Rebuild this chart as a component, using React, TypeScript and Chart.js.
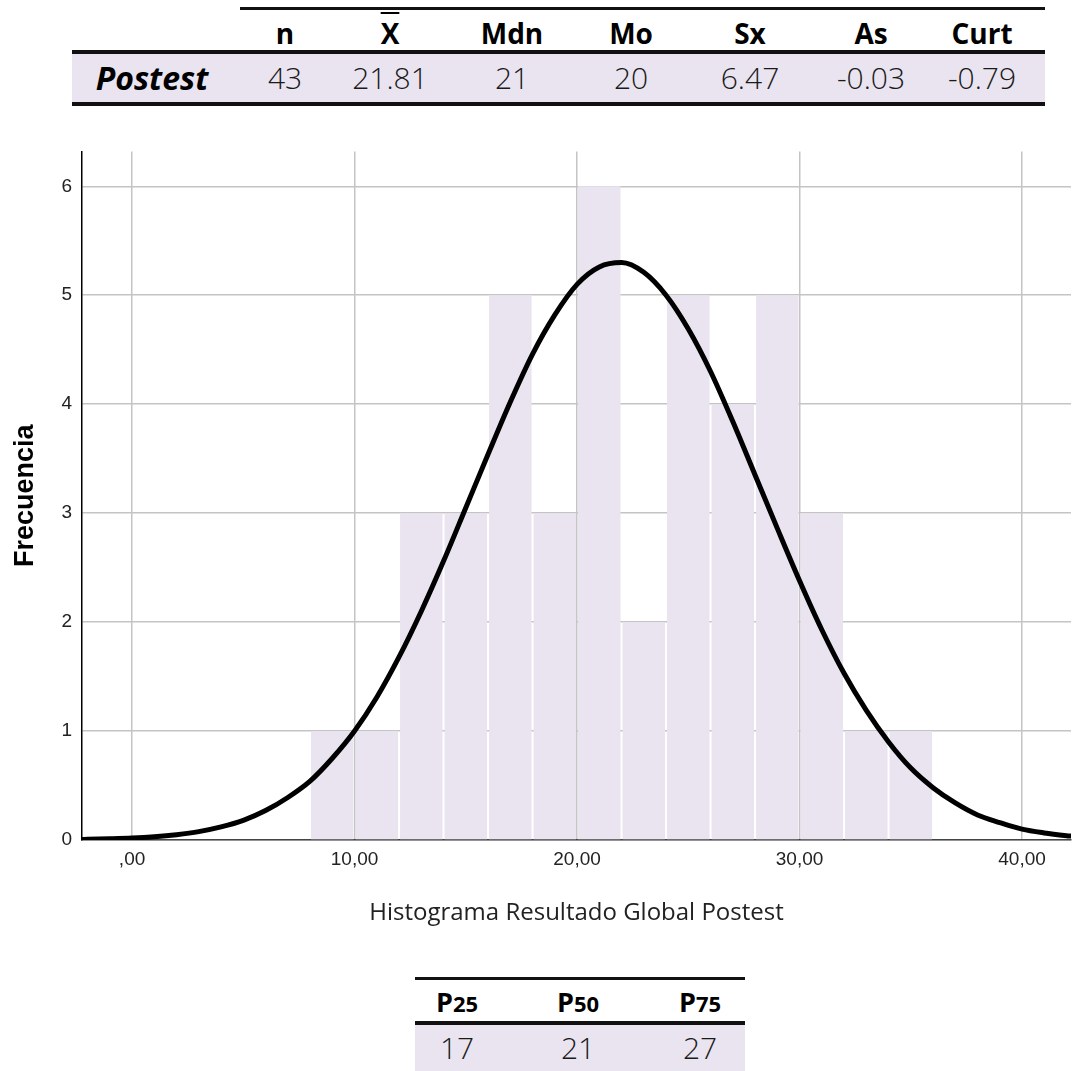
import React, { useEffect, useRef } from "react";
import { Chart, registerables } from "chart.js";

Chart.register(...registerables);

// ---- Data ----
const binCenters = [9, 11, 13, 15, 17, 19, 21, 23, 25, 27, 29, 31, 33, 35];
const binCounts = [1, 1, 3, 3, 5, 3, 6, 2, 5, 4, 5, 3, 1, 1];

const curveX = [-2.25, -2, -1, 0, 1, 2, 3, 4, 5, 6, 7, 8, 9, 10, 11, 12, 13, 14, 15, 16, 17, 18, 19, 20, 21, 22, 23, 24, 25, 26, 27, 28, 29, 30, 31, 32, 33, 34, 35, 36, 37, 38, 39, 40, 41, 42, 42.25];
const curveY = [0.005, 0.006, 0.011, 0.018, 0.03, 0.049, 0.077, 0.12, 0.18, 0.27, 0.39, 0.54, 0.75, 1.0, 1.31, 1.68, 2.1, 2.56, 3.05, 3.54, 4.02, 4.46, 4.82, 5.1, 5.26, 5.3, 5.21, 5.0, 4.69, 4.3, 3.84, 3.35, 2.86, 2.38, 1.93, 1.53, 1.19, 0.9, 0.66, 0.48, 0.34, 0.23, 0.16, 0.1, 0.065, 0.04, 0.035];

const xTickValues = [0, 10, 20, 30, 40];
const xTickLabels = [",00", "10,00", "20,00", "30,00", "40,00"];

const statHeaders = ["n", "X", "Mdn", "Mo", "Sx", "As", "Curt"];
const statValues = ["43", "21.81", "21", "20", "6.47", "-0.03", "-0.79"];
const rowLabel = "Postest";

const percentileSubs = ["25", "50", "75"];
const percentileValues = ["17", "21", "27"];

const xTitle = "Histograma Resultado Global Postest";
const yTitle = "Frecuencia";

// ---- Styles ----
const LAV = "#e9e4f0";
const statCols = [285, 390, 512, 631, 750, 871, 982];
const pctCols = [457, 578, 700];

function App() {
  const ref = useRef<HTMLCanvasElement | null>(null);

  useEffect(() => {
    if (!ref.current) return;
    const chart = new Chart(ref.current, {
      type: "bar",
      data: {
        datasets: [
          {
            type: "line",
            data: curveX.map((x, i) => ({ x, y: curveY[i] })),
            borderColor: "#000",
            borderWidth: 5,
            pointRadius: 0,
            cubicInterpolationMode: "monotone",
            fill: false,
            order: 0,
          } as any,
          {
            type: "bar",
            data: binCenters.map((x, i) => ({ x, y: binCounts[i] })),
            backgroundColor: LAV,
            borderWidth: 0,
            categoryPercentage: 1,
            barPercentage: 0.955,
            order: 1,
          } as any,
        ],
      },
      options: {
        animation: false,
        responsive: false,
        devicePixelRatio: 1,
        layout: { padding: { top: 0, right: 2, left: 0, bottom: 0 } },
        plugins: { legend: { display: false }, tooltip: { enabled: false } },
        scales: {
          x: {
            type: "linear",
            min: -2.25,
            max: 42.2,
            offset: false,
            grid: { offset: false, color: "#c4c4c4", lineWidth: 1.5, drawTicks: false },
            border: { color: "#444", width: 1.5 },
            afterFit: (s: any) => { s.height = 100; },
            afterBuildTicks: (s: any) => { s.ticks = xTickValues.map((v) => ({ value: v })); },
            ticks: {
              padding: 8,
              color: "#222",
              font: { family: "'Liberation Sans', Arial, sans-serif", size: 19 },
              callback: (v: any) => {
                const i = xTickValues.indexOf(Number(v));
                return i >= 0 ? xTickLabels[i] : "";
              },
            },
            title: {
              display: true,
              text: xTitle,
              color: "#222",
              font: { family: "'Open Sans', sans-serif", size: 24 },
              padding: { top: 0, bottom: 12 },
            },
          },
          y: {
            type: "linear",
            min: 0,
            max: 6.32,
            grid: { color: "#c4c4c4", lineWidth: 1.5, drawTicks: false },
            border: { color: "#000", width: 1.5 },
            afterFit: (s: any) => { s.width = 82; },
            ticks: {
              stepSize: 1,
              includeBounds: false,
              padding: 10,
              color: "#222",
              font: { family: "'Liberation Sans', Arial, sans-serif", size: 19 },
            },
            title: {
              display: true,
              text: yTitle,
              color: "#000",
              font: { family: "'Liberation Sans', Arial, sans-serif", size: 27, weight: "bold" },
              padding: { top: 9, bottom: 0 },
            },
          },
        },
      },
    });
    return () => chart.destroy();
  }, []);

  const abs = (style: React.CSSProperties): React.CSSProperties => ({ position: "absolute", ...style });
  const cell = (cx: number, cy: number, w = 140): React.CSSProperties =>
    abs({ left: cx - w / 2, top: cy - 22, width: w, height: 44, lineHeight: "44px", textAlign: "center", whiteSpace: "nowrap" });

  return (
    <div style={{ position: "absolute", left: 0, top: 0, width: 1073, height: 1071, background: "#fff", overflow: "hidden", fontFamily: "'Open Sans', sans-serif", color: "#1a1a1a" }}>
      {/* Top stats table */}
      <div style={abs({ left: 240, top: 7, width: 805, height: 2.5, background: "#111" })} />
      {statHeaders.map((h, i) => (
        <div key={"h" + i} style={{ ...cell(statCols[i], 33), fontWeight: 700, fontSize: 28, color: "#000" }}>
          {i === 1 ? <span style={{ textDecoration: "overline", textDecorationThickness: 2 }}>{h}</span> : h}
        </div>
      ))}
      <div style={abs({ left: 72, top: 50, width: 973, height: 3.5, background: "#111" })} />
      <div style={abs({ left: 72, top: 53.5, width: 973, height: 48.5, background: LAV })} />
      <div style={{ ...cell(152, 78, 180), fontWeight: 700, fontStyle: "italic", fontSize: 32, color: "#000" }}>{rowLabel}</div>
      {statValues.map((v, i) => (
        <div key={"v" + i} style={{ ...cell(statCols[i], 78), fontWeight: 300, fontSize: 30 }}>{v}</div>
      ))}
      <div style={abs({ left: 72, top: 102, width: 973, height: 3.5, background: "#111" })} />

      {/* Chart */}
      <canvas ref={ref} width={1073} height={810} style={abs({ left: 0, top: 130, width: 1073, height: 810 })} />

      {/* Bottom percentile table */}
      <div style={abs({ left: 415, top: 977, width: 330, height: 2.5, background: "#111" })} />
      {percentileSubs.map((s, i) => (
        <div key={"p" + i} style={{ ...cell(pctCols[i], 1002), fontWeight: 700, fontSize: 27, color: "#000" }}>
          P<span style={{ fontSize: 22 }}>{s}</span>
        </div>
      ))}
      <div style={abs({ left: 415, top: 1021, width: 330, height: 3.5, background: "#111" })} />
      <div style={abs({ left: 415, top: 1024.5, width: 330, height: 47, background: LAV })} />
      {percentileValues.map((v, i) => (
        <div key={"pv" + i} style={{ ...cell(pctCols[i], 1048), fontWeight: 300, fontSize: 30 }}>{v}</div>
      ))}
    </div>
  );
}

export default App;
